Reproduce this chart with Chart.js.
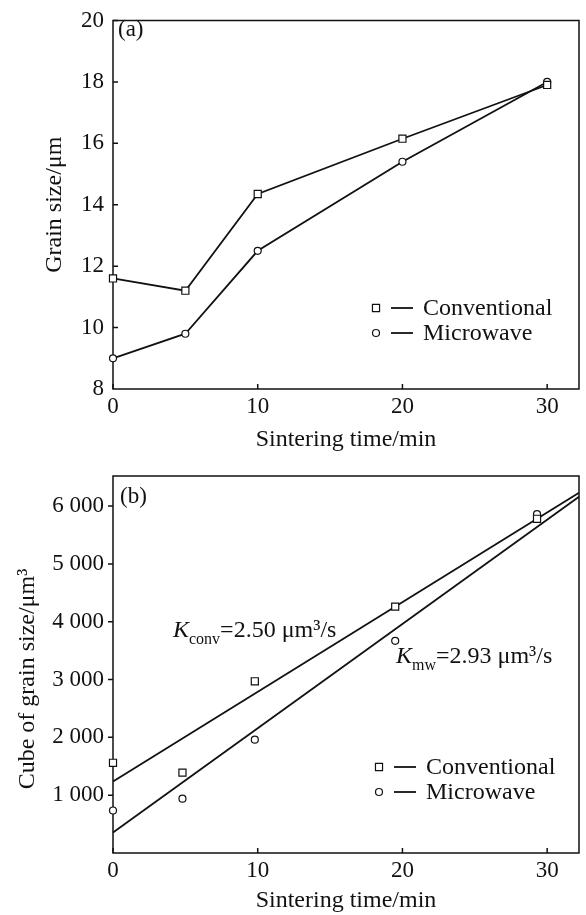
<!DOCTYPE html>
<html>
<head>
<meta charset="utf-8">
<script src="https://cdn.jsdelivr.net/npm/chart.js@4.4.1/dist/chart.umd.min.js"></script>
<style>
  html, body { margin: 0; padding: 0; background: #fff; }
  #wrapA { position: absolute; left: 0; top: 0; width: 586px; height: 455px; }
  #wrapB { position: absolute; left: 0; top: 455px; width: 586px; height: 460px; }
</style>
</head>
<body>
<div id="wrapA"><canvas id="chartA"></canvas></div>
<div id="wrapB"><canvas id="chartB"></canvas></div>
<script>
// (a) grain size vs sintering time
const timesA = [0, 5, 10, 20, 30];
const convA = [11.6, 11.2, 14.35, 16.15, 17.9];
const mwA = [9.0, 9.8, 12.5, 15.4, 18.0];

// (b) cube of grain size vs sintering time
const timesB = [0, 4.8, 9.8, 19.5, 29.3];
const convB = [1560, 1390, 2970, 4260, 5780];
const mwB = [735, 940, 1960, 3670, 5860];

// fitted straight lines, read at both ends of the x axis
const fitX = [0, 32.2];
const fitConv = [1235, 6230];
const fitMw = [355, 6160];

const seriesNames = ["Conventional", "Microwave"];

// tick values
const xTicks = [0, 10, 20, 30];
const yTicksA = [8, 10, 12, 14, 16, 18, 20];
const yTicksB = [0, 1000, 2000, 3000, 4000, 5000, 6000];

const FONT = "'Liberation Serif', 'Times New Roman', serif";
const INK = "#111";

const pts = (xs, ys) => xs.map((x, i) => ({ x: x, y: ys[i] }));

// frame, tick marks, legend and free text
const decor = {
    id: "decor",
    beforeDatasetsDraw(chart, args, opts) {
        const { ctx, chartArea: a, scales } = chart;
        const yDir = opts.yTickDir || 1;
        ctx.save();
        ctx.strokeStyle = INK;
        ctx.lineWidth = 1.5;
        ctx.strokeRect(a.left, a.top, a.right - a.left, a.bottom - a.top);
        ctx.beginPath();
        scales.x.ticks.forEach(t => {
            const px = scales.x.getPixelForValue(t.value);
            ctx.moveTo(px, a.bottom);
            ctx.lineTo(px, a.bottom - 5);
        });
        scales.y.ticks.forEach(t => {
            if (t.value === scales.y.min) return;
            const py = scales.y.getPixelForValue(t.value);
            ctx.moveTo(a.left, py);
            ctx.lineTo(a.left + 5 * yDir, py);
        });
        ctx.stroke();
        ctx.restore();
    },
    afterDraw(chart, args, opts) {
        const ctx = chart.ctx;
        ctx.save();
        ctx.fillStyle = INK;
        ctx.strokeStyle = INK;

        // legend: marker, short line, label
        (opts.legend || []).forEach(item => {
            const ds = chart.data.datasets[item.marker];
            ctx.lineWidth = 1.8;
            ctx.beginPath();
            ctx.moveTo(item.x + 15, item.y);
            ctx.lineTo(item.x + 37, item.y);
            ctx.stroke();
            ctx.fillStyle = "#fff";
            ctx.lineWidth = 1.2;
            Chart.helpers.drawPoint(ctx, {
                pointStyle: ds.pointStyle,
                radius: ds.pointRadius,
                borderWidth: 1.2,
                rotation: 0
            }, item.x, item.y);
            ctx.fillStyle = INK;
            ctx.font = "24px " + FONT;
            ctx.textBaseline = "middle";
            ctx.fillText(ds.label, item.x + 47, item.y + 1);
        });

        // free text built from runs (for sub/superscripts)
        (opts.texts || []).forEach(t => {
            ctx.save();
            ctx.translate(t.x, t.y);
            if (t.vertical) {
                ctx.rotate(-Math.PI / 2);
            }
            ctx.textBaseline = "alphabetic";
            let total = 0;
            t.runs.forEach(r => {
                ctx.font = (r.italic ? "italic " : "") + (r.size || 24) + "px " + FONT;
                total += ctx.measureText(r.s).width;
            });
            let x = t.center ? -total / 2 : 0;
            t.runs.forEach(r => {
                ctx.font = (r.italic ? "italic " : "") + (r.size || 24) + "px " + FONT;
                ctx.fillText(r.s, x, r.dy || 0);
                x += ctx.measureText(r.s).width;
            });
            ctx.restore();
        });
        ctx.restore();
    }
};

function lineStyle(label, shape, radius) {
    return {
        label: label,
        borderColor: INK,
        borderWidth: 1.8,
        pointStyle: shape,
        pointRadius: radius,
        pointBackgroundColor: "#fff",
        pointBorderColor: INK,
        pointBorderWidth: 1.2,
        tension: 0,
        clip: false
    };
}

function axes(cfg) {
    return {
        x: {
            type: "linear",
            min: 0,
            max: cfg.xMax,
            grid: { display: false, drawTicks: false },
            border: { display: false },
            afterBuildTicks: s => { s.ticks = xTicks.map(v => ({ value: v })); },
            ticks: {
                padding: 6, color: INK,
                font: { family: FONT, size: 23, lineHeight: 1 }
            },
            title: {
                display: true, text: "Sintering time/min", color: INK,
                font: { family: FONT, size: 24, lineHeight: 1.2 },
                padding: { top: 0, bottom: cfg.xTitlePad }
            },
            afterFit: s => { s.height = cfg.xHeight; }
        },
        y: {
            min: cfg.yMin,
            max: cfg.yMax,
            grid: { display: false, drawTicks: false },
            border: { display: false },
            afterBuildTicks: s => { s.ticks = cfg.yTicks.map(v => ({ value: v })); },
            ticks: {
                padding: 9, color: INK,
                font: { family: FONT, size: 23, lineHeight: 1 },
                callback: cfg.yFormat
            },
            title: {
                display: !!cfg.yTitle, text: cfg.yTitle, color: INK,
                font: { family: FONT, size: 24, lineHeight: 1.2 },
                padding: { top: cfg.yTitlePad, bottom: 0 }
            },
            afterFit: s => { s.width = 113; }
        }
    };
}

// ---------- (a) ----------
new Chart(document.getElementById("chartA"), {
    type: "line",
    data: {
        datasets: [
            Object.assign(lineStyle(seriesNames[0], "rect", 5), { data: pts(timesA, convA) }),
            Object.assign(lineStyle(seriesNames[1], "circle", 3.5), { data: pts(timesA, mwA) })
        ]
    },
    options: {
        responsive: true,
        maintainAspectRatio: false,
        animation: false,
        layout: { padding: { top: 12, right: 7, left: 0, bottom: 0 } },
        plugins: {
            legend: { display: false },
            tooltip: { enabled: false },
            decor: {
                legend: [
                    { marker: 0, x: 376, y: 308 },
                    { marker: 1, x: 376, y: 333 }
                ],
                texts: [
                    { x: 118, y: 36, runs: [{ s: "(a)", size: 23 }] }
                ]
            }
        },
        scales: axes({
            xMax: 32.2, xHeight: 66, xTitlePad: 1,
            yMin: 8, yMax: 20, yTicks: yTicksA,
            yTitle: "Grain size/\u03bcm", yTitlePad: 40,
            yFormat: v => v
        })
    },
    plugins: [decor]
});

// ---------- (b) ----------
new Chart(document.getElementById("chartB"), {
    type: "line",
    data: {
        datasets: [
            Object.assign(lineStyle(seriesNames[0], "rect", 5), { data: pts(timesB, convB), showLine: false }),
            Object.assign(lineStyle(seriesNames[1], "circle", 3.5), { data: pts(timesB, mwB), showLine: false }),
            Object.assign(lineStyle("fit conv", "circle", 0), { data: pts(fitX, fitConv) }),
            Object.assign(lineStyle("fit mw", "circle", 0), { data: pts(fitX, fitMw) })
        ]
    },
    options: {
        responsive: true,
        maintainAspectRatio: false,
        animation: false,
        layout: { padding: { top: 21, right: 7, left: 0, bottom: 0 } },
        plugins: {
            legend: { display: false },
            tooltip: { enabled: false },
            decor: {
                yTickDir: -1,
                legend: [
                    { marker: 0, x: 379, y: 312 },
                    { marker: 1, x: 379, y: 337 }
                ],
                texts: [
                    { x: 120, y: 48, runs: [{ s: "(b)", size: 23 }] },
                    { x: 173, y: 182, runs: [
                        { s: "K", italic: true },
                        { s: "conv", size: 16, dy: 7 },
                        { s: "=2.50 \u03bcm\u00b3/s" }
                    ] },
                    { x: 396, y: 208, runs: [
                        { s: "K", italic: true },
                        { s: "mw", size: 16, dy: 7 },
                        { s: "=2.93 \u03bcm\u00b3/s" }
                    ] },
                    { x: 34, y: 224, vertical: true, center: true, runs: [
                        { s: "Cube of grain size/\u03bcm\u00b3" }
                    ] }
                ]
            }
        },
        scales: axes({
            xMax: 32.2, xHeight: 62, xTitlePad: 0,
            yMin: 0, yMax: 6520, yTicks: yTicksB,
            yTitle: "", yTitlePad: 12,
            yFormat: v => v === 0 ? "" : (v / 1000) + " 000"
        })
    },
    plugins: [decor]
});
</script>
</body>
</html>
